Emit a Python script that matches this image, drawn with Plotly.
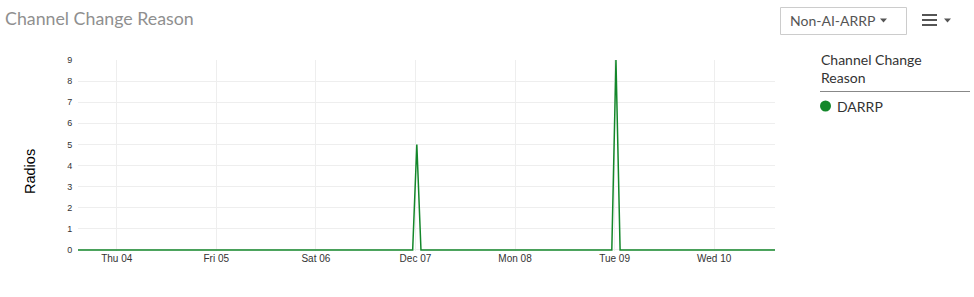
import plotly.graph_objects as go

# ---- data ----
times = ["2025-12-03 14:40", "2025-12-06 23:20", "2025-12-07 00:20", "2025-12-07 01:20",
         "2025-12-08 23:20", "2025-12-09 00:20", "2025-12-09 01:20", "2025-12-10 14:40"]
radios = [0, 0, 5, 0, 0, 9, 0, 0]
series_name = "DARRP"
tick_dates = ["2025-12-04", "2025-12-05", "2025-12-06", "2025-12-07",
              "2025-12-08", "2025-12-09", "2025-12-10"]
tick_labels = ["Thu 04", "Fri 05", "Sat 06", "Dec 07", "Mon 08", "Tue 09", "Wed 10"]
x_range = ["2025-12-03 14:40", "2025-12-10 14:40"]
y_ticks = [0, 1, 2, 3, 4, 5, 6, 7, 8, 9]

GREEN = "#13872a"
W, H = 974, 297
L, R, T, B = 78, 775, 60, 251
YMIN, YMAX = -0.05, 9


def px(x):
    return (x - L) / (R - L)


def py(y):
    return (B - y) / (B - T)


fig = go.Figure()
fig.add_trace(go.Scatter(x=times, y=radios, mode="lines", name=series_name,
                         line=dict(color=GREEN, width=1.5), showlegend=False))

fig.update_layout(
    width=W, height=H,
    margin=dict(l=L, r=W - R, t=T, b=H - B, pad=0),
    paper_bgcolor="white", plot_bgcolor="white",
    title=dict(text="Channel Change Reason", x=5 / W, xanchor="left", xref="container",
               y=1 - 19 / H, yanchor="middle", yref="container",
               font=dict(family="Lato", size=17.8, color="#8f8f8f")),
    xaxis=dict(range=x_range, type="date", tickvals=tick_dates, ticktext=tick_labels,
               showgrid=True, gridcolor="#eeeeee", gridwidth=1, zeroline=False,
               showline=False, ticks="", tickfont=dict(family="Liberation Sans", size=10, color="#333333")),
    yaxis=dict(range=[YMIN, YMAX], tickvals=y_ticks, showgrid=True, gridcolor="#eeeeee", gridwidth=1,
               zeroline=False, showline=False, ticks="outside", ticklen=3, tickcolor="rgba(0,0,0,0)",
               tickfont=dict(family="Liberation Sans", size=9, color="#333333")),
    showlegend=False,
)

# y-axis title
fig.add_annotation(xref="paper", yref="paper", x=px(30), y=py(172), xanchor="center", yanchor="middle",
                   text="Radios", textangle=-90, showarrow=False,
                   font=dict(family="Liberation Sans", size=14.5, color="#000000"))

# legend (drawn)
fig.add_annotation(xref="paper", yref="paper", x=px(819), y=py(49), xanchor="left", yanchor="top",
                   text="Channel Change<br>Reason", align="left", showarrow=False,
                   font=dict(family="Lato", size=14, color="#333333"))
fig.add_shape(type="line", xref="paper", yref="paper", x0=px(820), x1=px(970),
              y0=py(91.5), y1=py(91.5), line=dict(color="#888888", width=1))
fig.add_shape(type="circle", xref="paper", yref="paper", x0=px(820), x1=px(831),
              y0=py(111.5), y1=py(100.5), line=dict(width=0), fillcolor=GREEN)
fig.add_annotation(xref="paper", yref="paper", x=px(835), y=py(106), xanchor="left", yanchor="middle",
                   text=series_name, showarrow=False,
                   font=dict(family="Lato", size=14, color="#333333"))

# dropdown button
fig.add_shape(type="rect", xref="paper", yref="paper", x0=px(780.5), x1=px(906.5),
              y0=py(7.5), y1=py(34.5), line=dict(color="#cccccc", width=1), fillcolor="white")
fig.add_annotation(xref="paper", yref="paper", x=px(788), y=py(20.5), xanchor="left", yanchor="middle",
                   text="Non-AI-ARRP", showarrow=False,
                   font=dict(family="Lato", size=14, color="#555555"))


def tri(x0, x1, y0, y1):
    xm = (x0 + x1) / 2
    return (f"M {px(x0)} {py(y0)} L {px(x1)} {py(y0)} L {px(xm)} {py(y1)} Z")


fig.add_shape(type="path", xref="paper", yref="paper", path=tri(880, 887, 18.5, 22.5),
              line=dict(width=0), fillcolor="#555555")
# menu icon
for yy in (15, 20, 25):
    fig.add_shape(type="line", xref="paper", yref="paper", x0=px(922), x1=px(937),
                  y0=py(yy), y1=py(yy), line=dict(color="#555555", width=2))
fig.add_shape(type="path", xref="paper", yref="paper", path=tri(944, 951, 18.5, 22.5),
              line=dict(width=0), fillcolor="#555555")

fig.write_html("out.html")
